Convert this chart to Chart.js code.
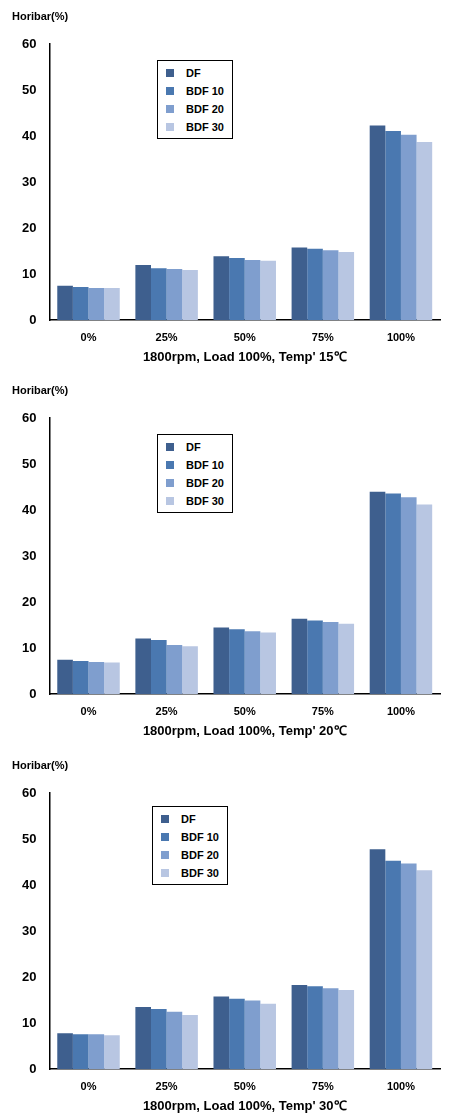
<!DOCTYPE html>
<html><head><meta charset="utf-8">
<script src="https://cdn.jsdelivr.net/npm/chart.js@4/dist/chart.umd.min.js"></script>
<style>
body{margin:0;background:#fff;font-family:"Liberation Sans",Arial,sans-serif;}
.box{position:absolute;left:0;width:452px;height:373px;}
.ttl{position:absolute;left:12px;top:10px;font-size:11px;font-weight:bold;}
.leg{position:absolute;background:#fff;border:1px solid #000;padding:3px 8px 2px 8px;font-size:11px;font-weight:bold;}
.leg div{height:18px;line-height:18px;}
.leg span{display:inline-block;width:8px;height:8px;margin-right:12px;}
</style></head><body>
<div class="box" id="b0" style="top:0"><canvas id="c0"></canvas></div>
<div class="box" id="b1" style="top:374px"><canvas id="c1"></canvas></div>
<div class="box" id="b2" style="top:749px"><canvas id="c2"></canvas></div>
<script>
// categories and series
const loads = ['0%', '25%', '50%', '75%', '100%'];
const fuels = ['DF', 'BDF 10', 'BDF 20', 'BDF 30'];
const colors = ['#3e5f8e', '#4a78b0', '#7f9ece', '#b8c6e2'];
const temps = ["15℃", "20℃", "30℃"];

const t15 = [
  [7.5, 12.0, 13.9, 15.8, 42.3],
  [7.2, 11.3, 13.5, 15.5, 41.1],
  [7.0, 11.1, 13.1, 15.2, 40.3],
  [7.0, 10.9, 12.9, 14.8, 38.7]
];
const t20 = [
  [7.5, 12.1, 14.5, 16.4, 44.0],
  [7.2, 11.8, 14.1, 16.0, 43.6],
  [7.0, 10.7, 13.7, 15.7, 42.8],
  [6.9, 10.4, 13.4, 15.3, 41.2]
];
const t30 = [
  [7.8, 13.5, 15.8, 18.3, 47.8],
  [7.6, 13.1, 15.3, 18.0, 45.3],
  [7.6, 12.5, 14.9, 17.6, 44.7],
  [7.4, 11.8, 14.2, 17.2, 43.2]
];
const yTicks = [0, 10, 20, 30, 40, 50, 60];
const legendPos = [[157, 60], [157, 60], [152, 57]];

[t15, t20, t30].forEach((series, n) => {
    const box = document.getElementById('b' + n);
    const t = document.createElement('div');
    t.className = 'ttl'; t.textContent = 'Horibar(%)';
    box.appendChild(t);
    const leg = document.createElement('div');
    leg.className = 'leg';
    leg.style.left = legendPos[n][0] + 'px'; leg.style.top = legendPos[n][1] + 'px';
    fuels.forEach((f, i) => {
        leg.innerHTML += '<div><span style="background:' + colors[i] + '"></span>' + f + '</div>';
    });
    box.appendChild(leg);

    new Chart(document.getElementById('c' + n), {
        type: 'bar',
        data: {
            labels: loads,
            datasets: fuels.map((f, i) => ({
                label: f, data: series[i], backgroundColor: colors[i],
                categoryPercentage: 0.8, barPercentage: 1
            }))
        },
        options: {
            responsive: true, maintainAspectRatio: false, animation: false,
            layout: { padding: { top: 44, left: 14, right: 12, bottom: 6 } },
            plugins: { legend: { display: false }, tooltip: { enabled: false } },
            scales: {
                x: {
                    grid: { display: false, drawTicks: true },
                    border: { color: '#000', width: 1.5 },
                    ticks: { color: '#000', font: { size: 11, weight: 'bold', family: 'Liberation Sans' } },
                    title: { display: true, text: "1800rpm, Load 100%, Temp' " + temps[n], color: '#000',
                             font: { size: 13, weight: 'bold', family: 'Liberation Sans' }, padding: 2 }
                },
                y: {
                    min: 0, max: 60,
                    afterBuildTicks: ax => { ax.ticks = yTicks.map(v => ({ value: v })); },
                    grid: { display: false, drawTicks: true, tickLength: 5, tickColor: '#000' },
                    border: { color: '#000', width: 1.5 },
                    ticks: { color: '#000', padding: 8, font: { size: 13, weight: 'bold', family: 'Liberation Sans' } }
                }
            }
        }
    });
});
</script>
</body></html>
